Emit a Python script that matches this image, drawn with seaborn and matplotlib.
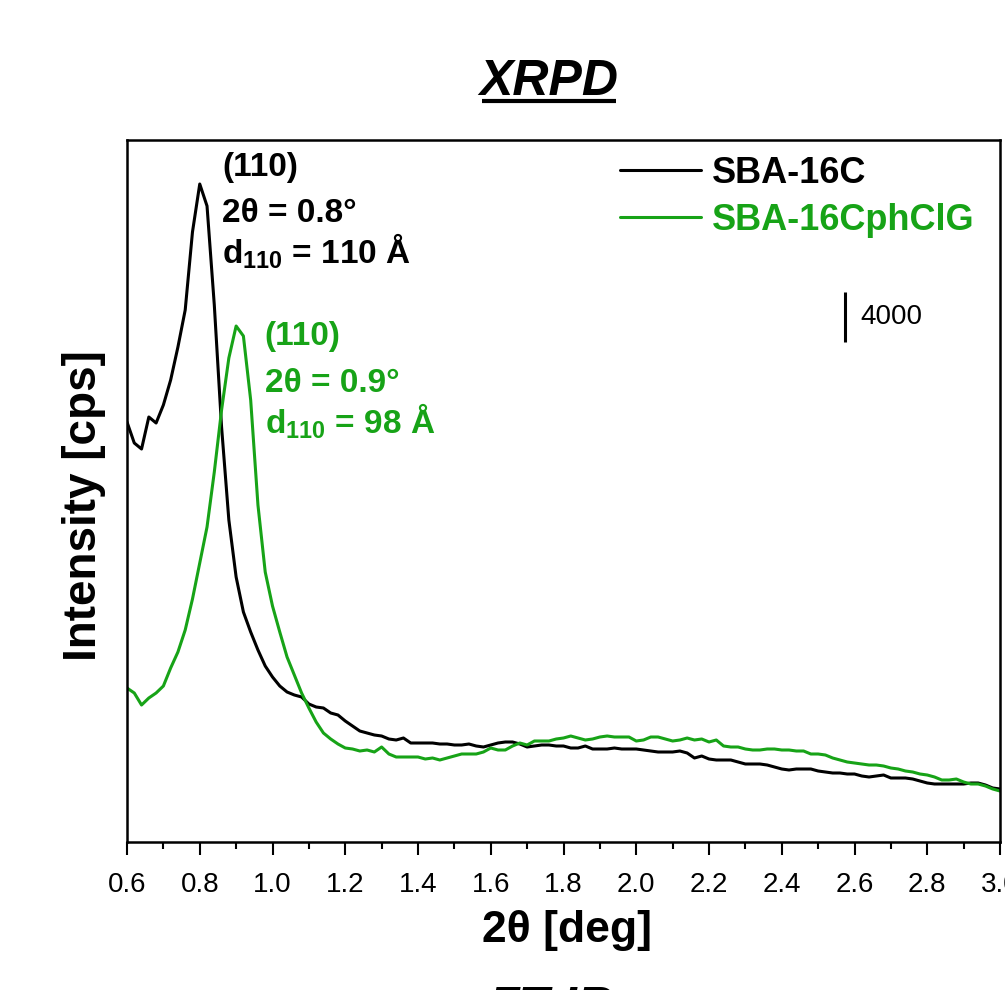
import numpy as np
import pandas as pd
import matplotlib
matplotlib.use("Agg")
import matplotlib.pyplot as plt
from matplotlib.ticker import MultipleLocator, FormatStrFormatter
from matplotlib.lines import Line2D
import seaborn as sns

# ---- data (2theta in deg, intensity in cps) ----
two_theta = np.round(np.arange(0.60, 3.0001, 0.02), 2)

sba16c = [
    33600, 31920, 31440, 34000, 33520, 34960, 36960, 39600, 42560, 48800,
    52640, 50880, 42960, 33200, 25760, 21200, 18400, 16800, 15360, 14080,
    13200, 12480, 12000, 11760, 11600, 11040, 10800, 10720, 10320, 10160,
    9680, 9280, 8880, 8720, 8560, 8480, 8240, 8160, 8320, 7920,
    7920, 7920, 7920, 7840, 7840, 7760, 7760, 7840, 7680, 7600,
    7760, 7920, 8000, 8000, 7840, 7600, 7680, 7760, 7760, 7680,
    7680, 7520, 7520, 7680, 7440, 7440, 7440, 7520, 7440, 7440,
    7440, 7360, 7280, 7200, 7200, 7200, 7280, 7120, 6720, 6880,
    6640, 6560, 6560, 6560, 6400, 6240, 6240, 6240, 6160, 6000,
    5840, 5760, 5840, 5840, 5840, 5680, 5600, 5520, 5520, 5440,
    5440, 5280, 5200, 5280, 5360, 5120, 5120, 5120, 5040, 4880,
    4720, 4640, 4640, 4640, 4640, 4640, 4720, 4720, 4560, 4320,
    4240,
]

sba16cphclg = [
    12320, 11920, 10960, 11520, 11920, 12480, 13920, 15200, 16960, 19440,
    22320, 25200, 29600, 34560, 38720, 41280, 40480, 35360, 26960, 21600,
    18880, 16800, 14800, 13360, 11920, 10720, 9600, 8720, 8240, 7840,
    7520, 7440, 7280, 7360, 7200, 7600, 7040, 6800, 6800, 6800,
    6800, 6640, 6720, 6560, 6720, 6880, 7040, 7040, 7040, 7200,
    7520, 7360, 7360, 7680, 7920, 7760, 8080, 8080, 8080, 8240,
    8320, 8480, 8320, 8160, 8240, 8400, 8480, 8400, 8400, 8400,
    8080, 8160, 8400, 8400, 8240, 8080, 8160, 8320, 8160, 8240,
    8000, 8160, 7680, 7600, 7600, 7440, 7360, 7360, 7440, 7440,
    7360, 7360, 7280, 7280, 7040, 7040, 6960, 6720, 6560, 6400,
    6320, 6240, 6160, 6160, 6080, 5920, 5840, 5680, 5600, 5440,
    5360, 5200, 4960, 4960, 5040, 4800, 4640, 4640, 4480, 4240,
    4080,
]

series_names = ["SBA-16C", "SBA-16CphClG"]
series_colors = ["#000000", "#17a317"]
x_ticks_major = 0.2
scale_bar_value = 4000

# ---- style ----
sns.set_theme(style="white")
plt.rcParams["font.family"] = ["Liberation Sans", "DejaVu Sans"]
plt.rcParams["text.color"] = "black"
plt.rcParams["mathtext.fontset"] = "custom"
plt.rcParams["mathtext.rm"] = "Liberation Sans"
plt.rcParams["mathtext.bf"] = "Liberation Sans:bold"

W, H = 1005, 990
LW = 2.2
fig = plt.figure(figsize=(W / 100, H / 100), dpi=100)
fig.patch.set_facecolor("white")
ax = fig.add_axes([127 / W, 1 - 842 / H, 873 / W, 702 / H])

df = pd.DataFrame({
    "two_theta": np.concatenate([two_theta, two_theta]),
    "intensity": np.concatenate([sba16c, sba16cphclg]),
    "sample": [series_names[0]] * len(two_theta) + [series_names[1]] * len(two_theta),
})
sns.lineplot(data=df, x="two_theta", y="intensity", hue="sample",
             palette=dict(zip(series_names, series_colors)),
             linewidth=LW, ax=ax, legend=False, estimator=None, sort=False)

ax.set_xlim(0.6, 3.0)
ax.set_ylim(0, 56160)
ax.set_xlabel("")
ax.set_ylabel("")
ax.set_yticks([])
ax.xaxis.set_major_locator(MultipleLocator(x_ticks_major))
ax.xaxis.set_minor_locator(MultipleLocator(x_ticks_major / 2))
ax.xaxis.set_major_formatter(FormatStrFormatter("%.1f"))
ax.tick_params(axis="x", which="major", direction="out", length=9.5, width=1.5,
               labelsize=20, pad=12, bottom=True, colors="black")
ax.tick_params(axis="x", which="minor", direction="out", length=5, width=1.5,
               bottom=True, colors="black")
for s in ax.spines.values():
    s.set_visible(True)
    s.set_color("black")
    s.set_linewidth(1.8)

# legend
handles = [Line2D([], [], color=c, lw=LW) for c in series_colors]
leg = ax.legend(handles, series_names, loc="upper left",
                bbox_to_anchor=(620 / W, 1 - 156 / H), bbox_transform=fig.transFigure,
                frameon=False, prop={"weight": "bold", "size": 26},
                handlelength=2.24, handletextpad=0.31, labelspacing=0.33,
                borderpad=0, borderaxespad=0)
for t, c in zip(leg.get_texts(), series_colors):
    t.set_color(c)

# peak annotations
black_lines = ["(110)", "2θ = 0.8°", r"d$_{\mathbf{110}}$ = 110 Å"]
green_lines = ["(110)", "2θ = 0.9°", r"d$_{\mathbf{110}}$ = 98 Å"]
black_y = [53280, 49600, 46320]
green_y = [39760, 36000, 32720]
for txt, yy in zip(black_lines, black_y):
    ax.text(0.861, yy, txt, color=series_colors[0], fontsize=24, fontweight="bold",
            ha="left", va="baseline")
for txt, yy in zip(green_lines, green_y):
    ax.text(0.979, yy, txt, color=series_colors[1], fontsize=24, fontweight="bold",
            ha="left", va="baseline")

# scale bar
ax.plot([2.574, 2.574], [40000, 40000 + scale_bar_value], color="black", lw=LW,
        solid_capstyle="butt")
ax.text(2.615, 40000 + scale_bar_value / 2, f"{scale_bar_value}", fontsize=20,
        ha="left", va="center", color="black")

# axis labels
fig.text(567 / W, 1 - 942 / H, "2θ [deg]", fontsize=32, fontweight="bold",
         ha="center", va="baseline", color="black")
fig.text(96 / W, 1 - 506 / H, "Intensity [cps]", fontsize=33, fontweight="bold",
         rotation=90, rotation_mode="anchor", ha="center", va="baseline",
         color="black")

# title with underline
fig.text(549 / W, 1 - 95 / H, "XRPD", fontsize=36, fontweight="bold",
         fontstyle="italic", ha="center", va="baseline", color="black")
fig.add_artist(Line2D([482 / W, 616 / W], [1 - 101 / H, 1 - 101 / H],
                      transform=fig.transFigure, color="black", lw=3,
                      solid_capstyle="butt"))

# next panel title (cut off at bottom)
fig.text(551 / W, 1 - 1022 / H, "FT-IR", fontsize=36, fontweight="bold",
         fontstyle="italic", ha="center", va="baseline", color="black")

fig.savefig("out.png", dpi=100)
